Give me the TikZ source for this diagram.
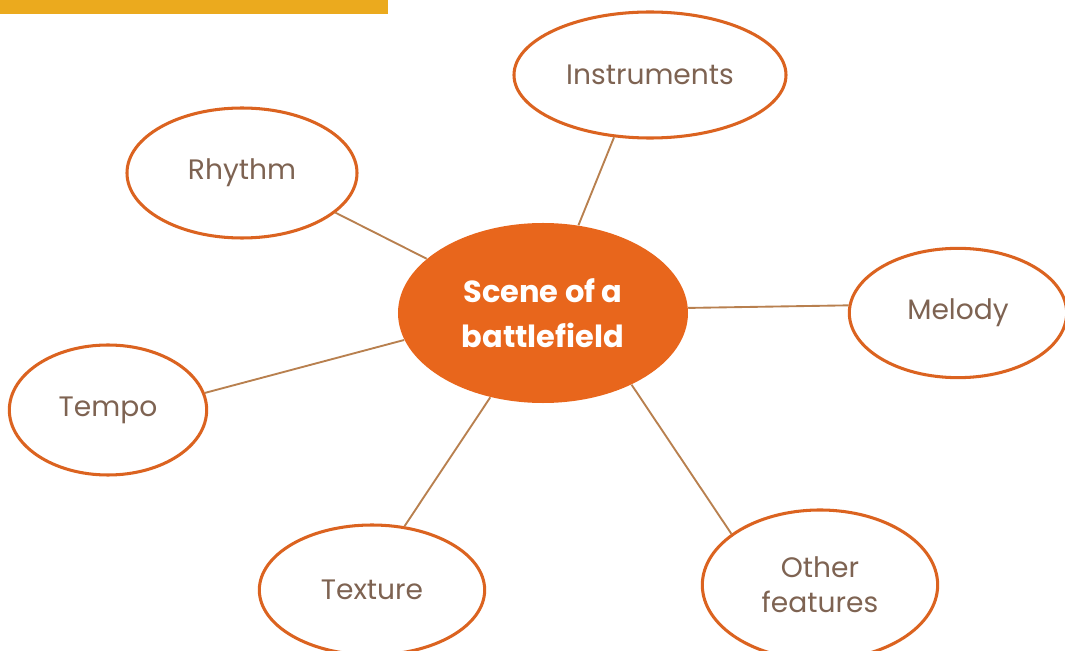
\documentclass[tikz,border=0pt]{standalone}
\usepackage{fontspec}
\setmainfont{Poppins}
\usepackage{xcolor}
\usetikzlibrary{shapes}
\definecolor{hubfill}{HTML}{E8661C}
\definecolor{rimorange}{HTML}{DB6320}
\definecolor{linkbrown}{HTML}{B8804F}
\definecolor{labelbrown}{HTML}{7E6352}
\definecolor{baryellow}{HTML}{EBAA1E}

\begin{document}
\begin{tikzpicture}[x=0.15mm, y=-0.15mm]

    \tikzset{topic/.style = {ellipse, draw=rimorange, line width=1.3pt, fill=white, inner sep=0pt,
                             text=labelbrown, font={\fontsize{12pt}{15pt}\selectfont}, align=center}}
    \tikzset{hub/.style = {ellipse, fill=hubfill, inner sep=0pt, text=white,
                           font={\fontsize{13pt}{19pt}\selectfont\bfseries}, align=center}}
    \tikzset{link/.style = {draw=linkbrown, line width=0.8pt}}

    \useasboundingbox (0,0) rectangle (1065,651);
    \fill[baryellow] (0,0) rectangle (388,14);

    % vertices
    \node[hub, minimum width=43.5mm, minimum height=27mm] (scene) at (543,313) {Scene of a\\battlefield};
    \node[topic, minimum width=40.8mm, minimum height=18.9mm] (instr) at (650,75) {Instruments};
    \node[topic, minimum width=34.5mm, minimum height=19.5mm] (rhythm) at (242,173) {Rhythm};
    \node[topic, minimum width=32.6mm, minimum height=19.4mm] (melody) at (958,313) {Melody};
    \node[topic, minimum width=29.6mm, minimum height=19.5mm] (tempo) at (108,410) {Tempo};
    \node[topic, minimum width=33.8mm, minimum height=19.5mm] (texture) at (372,590) {Texture};
    \node[topic, minimum width=35.3mm, minimum height=22.5mm] (other) at (820,585) {Other\\features};

    %edges
    \draw[link] (scene.68) -- (instr.240);
    \draw[link] (scene.155) -- (rhythm.-23);
    \draw[link] (scene.2) -- (melody.176);
    \draw[link] (scene.191) -- (tempo.10);
    \draw[link] (scene.238) -- (texture.63);
    \draw[link] (scene.-39) -- (other.150);

\end{tikzpicture}
\end{document}
